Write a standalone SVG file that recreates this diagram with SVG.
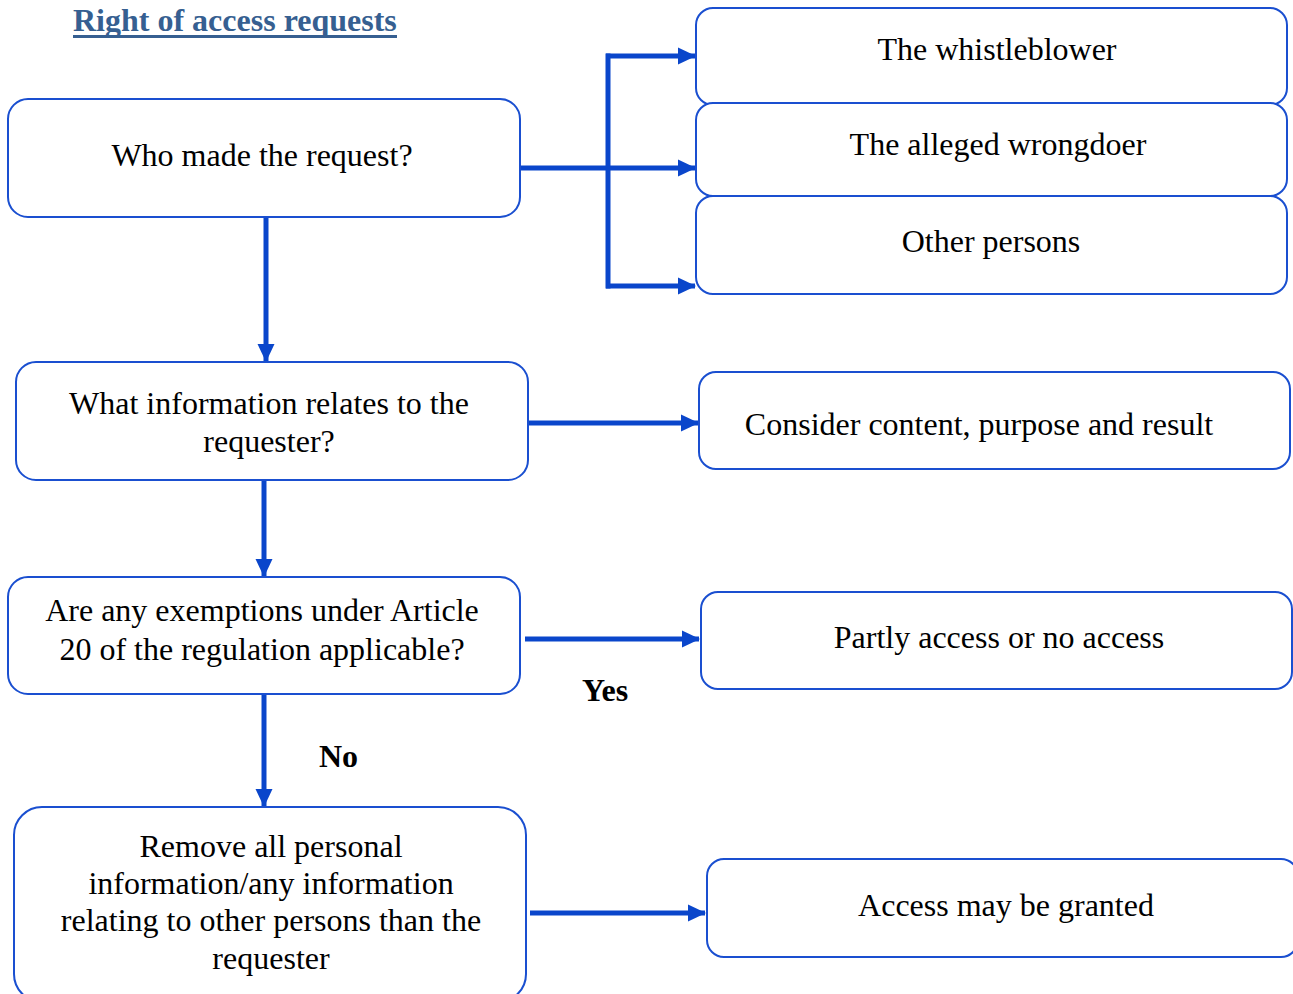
<svg xmlns="http://www.w3.org/2000/svg" width="1293" height="994" viewBox="0 0 1293 994">
<style>
.box{fill:#fff;stroke:#1a4fd0;stroke-width:2}
.t{font-family:"Liberation Serif","Times New Roman",serif;font-size:32px;fill:#000;text-anchor:middle}
.b{font-family:"Liberation Serif","Times New Roman",serif;font-size:32px;font-weight:bold;fill:#000}
.c{fill:none;stroke:#0a46cb;stroke-width:5}
.title{font-family:"Liberation Serif","Times New Roman",serif;font-size:32px;font-weight:bold;fill:#365f91}
</style>
<defs>
<marker id="ah" markerUnits="userSpaceOnUse" markerWidth="19" markerHeight="18" refX="17" refY="9" orient="auto" viewBox="0 0 19 18">
<path d="M0,0.5 L18,9 L0,17.5 z" fill="#0a46cb"/>
</marker>
</defs>
<rect width="1293" height="994" fill="#fff"/>
<g id="title">
<text class="title" x="73" y="31">Right of access requests</text>
<rect x="73" y="35" width="324" height="3" fill="#365f91"/>
</g>
<g id="connectors">
<path class="c" d="M520,168 H608"/>
<path class="c" d="M608,53.5 V288.5"/>
<path class="c" d="M606,56 H695" marker-end="url(#ah)"/>
<path class="c" d="M608,168 H695" marker-end="url(#ah)"/>
<path class="c" d="M606,286 H695" marker-end="url(#ah)"/>
<path class="c" d="M266,217 V361" marker-end="url(#ah)"/>
<path class="c" d="M528,423 H698" marker-end="url(#ah)"/>
<path class="c" d="M264,480 V576" marker-end="url(#ah)"/>
<path class="c" d="M525,639 H699" marker-end="url(#ah)"/>
<path class="c" d="M264,694 V806" marker-end="url(#ah)"/>
<path class="c" d="M530,913 H705" marker-end="url(#ah)"/>
<text class="b" x="582" y="701">Yes</text>
<text class="b" x="319" y="767">No</text>
</g>
<g id="n1">
<rect class="box" x="8" y="99" width="512" height="118" rx="20"/>
<text class="t" x="262" y="166">Who made the request?</text>
</g>
<g id="n2">
<rect class="box" x="696" y="8" width="591" height="97" rx="17"/>
<text class="t" x="997" y="60">The whistleblower</text>
</g>
<g id="n3">
<rect class="box" x="696" y="103" width="591" height="93" rx="17"/>
<text class="t" x="998" y="155">The alleged wrongdoer</text>
</g>
<g id="n4">
<rect class="box" x="696" y="196" width="591" height="98" rx="17"/>
<text class="t" x="991" y="252">Other persons</text>
</g>
<g id="n5">
<rect class="box" x="16" y="362" width="512" height="118" rx="20"/>
<text class="t" x="269" y="414">What information relates to the</text>
<text class="t" x="269" y="452">requester?</text>
</g>
<g id="n6">
<rect class="box" x="699" y="372" width="591" height="97" rx="17"/>
<text class="t" x="979" y="435">Consider content, purpose and result</text>
</g>
<g id="n7">
<rect class="box" x="8" y="577" width="512" height="117" rx="20"/>
<text class="t" x="262" y="621">Are any exemptions under Article</text>
<text class="t" x="262" y="660">20 of the regulation applicable?</text>
</g>
<g id="n8">
<rect class="box" x="701" y="592" width="591" height="97" rx="17"/>
<text class="t" x="999" y="648">Partly access or no access</text>
</g>
<g id="n9">
<rect class="box" x="14" y="807" width="512" height="195" rx="28"/>
<text class="t" x="271" y="857">Remove all personal</text>
<text class="t" x="271" y="894">information/any information</text>
<text class="t" x="271" y="931">relating to other persons than the</text>
<text class="t" x="271" y="969">requester</text>
</g>
<g id="n10">
<rect class="box" x="707" y="859" width="591" height="98" rx="17"/>
<text class="t" x="1006" y="916">Access may be granted</text>
</g>
</svg>
